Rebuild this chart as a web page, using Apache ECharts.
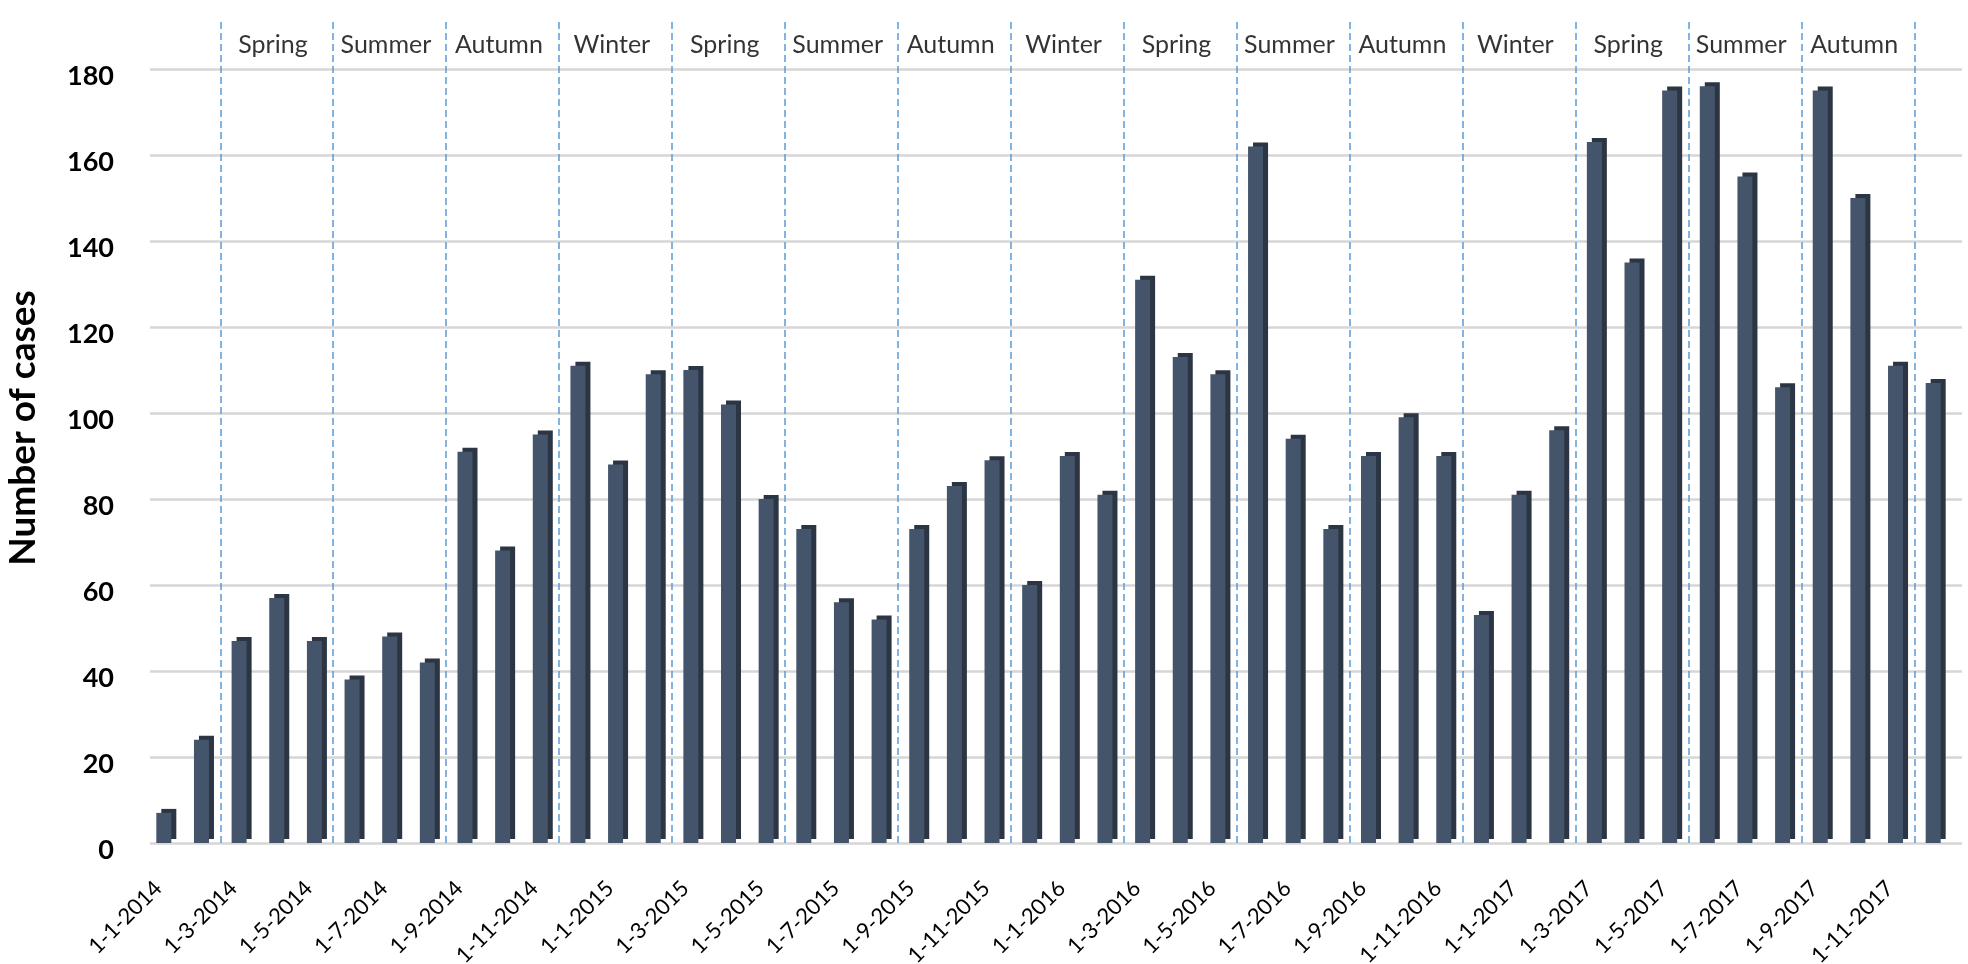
<!DOCTYPE html>
<html>
<head>
<meta charset="utf-8">
<script src="https://cdn.jsdelivr.net/npm/echarts@6/dist/echarts.min.js"></script>
<style>
html,body{margin:0;padding:0;background:#fff;}
#chart{width:1968px;height:964px;}
</style>
</head>
<body>
<div id="chart"></div>
<script>
const months = [
  "1-1-2014","1-2-2014","1-3-2014","1-4-2014","1-5-2014","1-6-2014","1-7-2014","1-8-2014","1-9-2014","1-10-2014","1-11-2014","1-12-2014",
  "1-1-2015","1-2-2015","1-3-2015","1-4-2015","1-5-2015","1-6-2015","1-7-2015","1-8-2015","1-9-2015","1-10-2015","1-11-2015","1-12-2015",
  "1-1-2016","1-2-2016","1-3-2016","1-4-2016","1-5-2016","1-6-2016","1-7-2016","1-8-2016","1-9-2016","1-10-2016","1-11-2016","1-12-2016",
  "1-1-2017","1-2-2017","1-3-2017","1-4-2017","1-5-2017","1-6-2017","1-7-2017","1-8-2017","1-9-2017","1-10-2017","1-11-2017","1-12-2017"
];
const cases2014 = [7, 24, 47, 57, 47, 38, 48, 42, 91, 68, 95, 111];
const cases2015 = [88, 109, 110, 102, 80, 73, 56, 52, 73, 83, 89, 60];
const cases2016 = [90, 81, 131, 113, 109, 162, 94, 73, 90, 99, 90, 53];
const cases2017 = [81, 96, 163, 135, 175, 176, 155, 106, 175, 150, 111, 107];
const cases = [].concat(cases2014, cases2015, cases2016, cases2017);

// season boundaries, counted in months from the start of the axis
const seasonBoundaries = [2, 5, 8, 11, 14, 17, 20, 23, 26, 29, 32, 35, 38, 41, 44, 47];
const seasonNames = ["Spring","Summer","Autumn","Winter","Spring","Summer","Autumn","Winter",
                     "Spring","Summer","Autumn","Winter","Spring","Summer","Autumn"];
const yMin = 0, yMax = 180, yStep = 20;

const FONT = 'Lato, "Open Sans", sans-serif';

const seasonLineData = seasonBoundaries.map(b => [{coord: [b, 0]}, {coord: [b, 1]}]);
const seasonLabelData = seasonNames.map((n, i) => ({
  value: [(seasonBoundaries[i] + seasonBoundaries[i + 1]) / 2 - 0.1, 1],
  name: n
}));

const chart = echarts.init(document.getElementById('chart'), null, {renderer: 'canvas'});
chart.setOption({
  animation: false,
  backgroundColor: '#ffffff',
  grid: [
    {left: 145, right: 16, top: 69, bottom: 121, outerBoundsMode: 'none', containLabel: false},   // bars
    {left: 145, right: 16, top: 20, bottom: 121, outerBoundsMode: 'none', containLabel: false},   // season lines
    {left: 150, right: 6, top: 69, bottom: 121, outerBoundsMode: 'none', containLabel: false}     // value axis + gridlines
  ],
  xAxis: [
    {
      type: 'category', gridIndex: 0, data: months,
      axisLine: {show: false}, axisTick: {show: false},
      axisLabel: {
        interval: 1, rotate: 45, margin: 36,
        padding: [0, 8, 0, 0],
        fontFamily: FONT, fontSize: 22, color: '#000'
      }
    },
    {type: 'value', gridIndex: 1, min: 0, max: months.length, show: false},
    {type: 'value', gridIndex: 2, min: 0, max: 1, show: false}
  ],
  yAxis: [
    {type: 'value', gridIndex: 0, min: yMin, max: yMax, interval: yStep, show: false},
    {type: 'value', gridIndex: 1, min: 0, max: 1, show: false},
    {
      type: 'value', gridIndex: 2, min: yMin, max: yMax, interval: yStep,
      name: 'Number of cases', nameLocation: 'middle', nameGap: 108,
      nameTextStyle: {fontFamily: FONT, fontSize: 37, fontWeight: 'bold', color: '#000', padding: [0, 0, 0, 56]},
      axisLine: {show: false}, axisTick: {show: false},
      axisLabel: {
        margin: 36, fontFamily: FONT, fontSize: 27, fontWeight: 'bold', color: '#000',
        formatter: v => '{gap|}\n' + v,
        rich: {gap: {height: 14, lineHeight: 14}}
      },
      splitLine: {show: true, lineStyle: {color: '#d6d6d6', width: 2.5}}
    }
  ],
  series: [
    {
      type: 'bar', xAxisIndex: 0, yAxisIndex: 0, data: cases,
      barWidth: 15,
      itemStyle: {
        color: '#44546a',
        shadowColor: '#2b3543', shadowOffsetX: 5, shadowOffsetY: -4, shadowBlur: 0
      },
      z: 3
    },
    {
      type: 'scatter', xAxisIndex: 1, yAxisIndex: 1, data: seasonLabelData,
      symbolSize: 0, silent: true,
      label: {
        show: true, position: 'bottom', distance: 12,
        formatter: p => p.name,
        fontFamily: FONT, fontSize: 25, color: '#000'
      },
      markLine: {
        silent: true, symbol: ['none', 'none'],
        label: {show: false},
        lineStyle: {color: '#5b9bd5', width: 1.5, type: [7, 4]},
        data: seasonLineData
      },
      z: 5
    },
    {type: 'line', xAxisIndex: 2, yAxisIndex: 2, data: [], silent: true}
  ]
});
</script>
</body>
</html>
